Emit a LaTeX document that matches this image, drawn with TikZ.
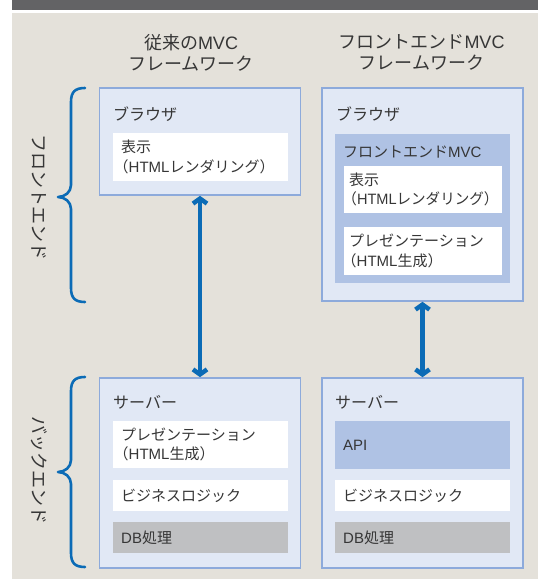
\documentclass[tikz,border=0pt]{standalone}
\usepackage{fontspec}
\setmainfont{Noto Sans CJK JP}
\newfontfamily\latin{Liberation Sans}
\usetikzlibrary{arrows.meta}

\definecolor{bgbeige}{HTML}{E4E1DA}
\definecolor{topbar}{HTML}{636365}
\definecolor{panelfill}{HTML}{E1E8F5}
\definecolor{panelline}{HTML}{8DAADB}
\definecolor{mvcblue}{HTML}{AFC2E4}
\definecolor{dbgray}{HTML}{BFC0C2}
\definecolor{linkblue}{HTML}{0B6BB6}
\definecolor{txtgray}{HTML}{363636}

% opening paren set flush at line start
\newcommand{\lp}{\hspace*{-0.5em}（}
% latin words in a helvetica-like face
\newcommand{\lw}[1]{{\latin #1}}

\tikzset{
  panel/.style={draw=panelline, fill=panelfill, line width=1.6pt, minimum width=201pt, inner sep=0pt},
  cell/.style={fill=white, minimum width=175pt, inner sep=0pt},
  bluecell/.style={cell, fill=mvcblue},
  graycell/.style={cell, fill=dbgray},
  lbl/.style={anchor=west, inner sep=0pt, text=txtgray, font=\fontsize{16}{19}\selectfont},
  txt/.style={anchor=west, inner sep=0pt, align=left, text=txtgray, font=\fontsize{15}{19.5}\selectfont},
  head/.style={align=center, inner sep=0pt, text=txtgray, font=\fontsize{18}{21}\selectfont},
  side/.style={rotate=-90, inner sep=0pt, text=txtgray, font=\fontsize{18}{21}\selectfont},
  link/.style={linkblue, line width=4.5pt, {Straight Barb[length=5pt,width=14pt]}-{Straight Barb[length=5pt,width=14pt]}},
  brc/.style={linkblue, line width=2.6pt, line cap=round, line join=round}
}

\begin{document}
\begin{tikzpicture}[x=1pt, y=-1pt]
  \useasboundingbox (0,0) rectangle (538,579);
  % background and header strip
  \fill[topbar] (12,0) rectangle (538,9.5);
  \fill[bgbeige] (12,13) rectangle (538,579);

  % column headings
  \node[head] (hL) at (191,52.5) {従来の\lw{MVC}\\フレームワーク};
  \node[head] (hR) at (421.5,52.5) {フロントエンド\lw{MVC}\\フレームワーク};

  % side labels with braces
  \node[side] (fe) at (39,197) {フロントエンド};
  \node[side] (be) at (39,470) {バックエンド};
  \draw[brc] (85,88) .. controls (75,88) and (71,92) .. (71,102) -- (71,185)
    .. controls (71,192) and (65,197) .. (58,197) .. controls (65,197) and (71,202) .. (71,209)
    -- (71,288) .. controls (71,298) and (75,302) .. (85,302);
  \draw[brc] (85,377) .. controls (75,377) and (71,381) .. (71,391) -- (71,460)
    .. controls (71,467) and (65,472) .. (58,472) .. controls (65,472) and (71,477) .. (71,484)
    -- (71,553) .. controls (71,563) and (75,567) .. (85,567);

  % left column
  \node[panel, minimum height=107pt] (brL) at (200,141.5) {};
  \node[lbl] (brLt) at (113,114) {ブラウザ};
  \node[cell, minimum height=48pt] (viewL) at (200.5,157) {};
  \node[txt] (viewLt) at (121,157) {表示\\\lp\lw{HTML}レンダリング）};

  \node[panel, minimum height=190pt] (svL) at (200,473) {};
  \node[lbl] (svLt) at (113,402) {サーバー};
  \node[cell, minimum height=47pt] (presL) at (200.5,444.5) {};
  \node[txt] (presLt) at (121,444.5) {プレゼンテーション\\\lp\lw{HTML}生成）};
  \node[cell, minimum height=31pt] (bizL) at (200.5,495.5) {};
  \node[txt] (bizLt) at (121,495.5) {ビジネスロジック};
  \node[graycell, minimum height=31pt] (dbL) at (200.5,537.5) {};
  \node[txt] (dbLt) at (121,537.5) {\lw{DB}処理};

  % right column
  \node[panel, minimum height=213pt] (brR) at (422.5,194.5) {};
  \node[lbl] (brRt) at (336,114) {ブラウザ};
  \node[bluecell, minimum height=149pt] (mvc) at (422.5,208.5) {};
  \node[txt] (mvct) at (343,152) {フロントエンド\lw{MVC}};
  \node[cell, minimum width=158pt, minimum height=47pt] (viewR) at (423,189.5) {};
  \node[txt] (viewRt) at (349,189.5) {表示\\\hspace*{-0.45em}\scalebox{0.97}[1]{（\lw{HTML}レンダリング）}};
  \node[cell, minimum width=158pt, minimum height=48pt] (presR) at (423,251) {};
  \node[txt] (presRt) at (349,251) {プレゼンテーション\\\lp\lw{HTML}生成）};

  \node[panel, minimum height=190pt] (svR) at (422.5,473) {};
  \node[lbl] (svRt) at (335,402) {サーバー};
  \node[bluecell, minimum height=48pt] (api) at (422.5,445) {};
  \node[txt] (apit) at (343,445) {\lw{API}};
  \node[cell, minimum height=31pt] (bizR) at (422.5,495.5) {};
  \node[txt] (bizRt) at (343,495.5) {ビジネスロジック};
  \node[graycell, minimum height=31pt] (dbR) at (422.5,537.5) {};
  \node[txt] (dbRt) at (343,537.5) {\lw{DB}処理};

  % links between browser and server
  \draw[link] (brL.south) -- (svL.north);
  \draw[link] (brR.south) -- (svR.north);
\end{tikzpicture}
\end{document}
